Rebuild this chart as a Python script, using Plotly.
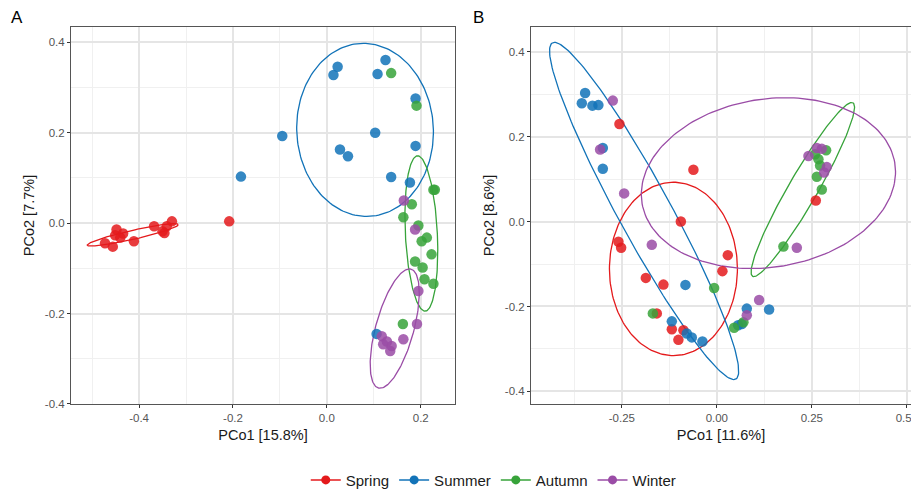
import numpy as np
import plotly.graph_objects as go

seasons = ["Spring", "Summer", "Autumn", "Winter"]
colors = {"Spring": "#E41A1C", "Summer": "#1273B8", "Autumn": "#37A33A", "Winter": "#9A4CA6"}

# ---------------- Tick labels ----------------
a_xtick_vals = [-0.4, -0.2, 0.0, 0.2]
a_xtick_text = ["-0.4", "-0.2", "0.0", "0.2"]
a_ytick_vals = [-0.4, -0.2, 0.0, 0.2, 0.4]
a_ytick_text = ["-0.4", "-0.2", "0.0", "0.2", "0.4"]
b_xtick_vals = [-0.25, 0.0, 0.25, 0.5]
b_xtick_text = ["-0.25", "0.00", "0.25", "0.50"]
b_ytick_vals = [-0.4, -0.2, 0.0, 0.2, 0.4]
b_ytick_text = ["-0.4", "-0.2", "0.0", "0.2", "0.4"]

# ---------------- Panel A data ----------------
a_spring_x = [-0.4725, -0.456, -0.448, -0.451, -0.434, -0.411, -0.368, -0.350, -0.341, -0.330, -0.440, -0.346, -0.208]
a_spring_y = [-0.0446, -0.052, -0.014, -0.027, -0.023, -0.040, -0.007, -0.018, -0.007, 0.004, -0.032, -0.022, 0.004]
a_summer_x = [-0.183, -0.095, 0.014, 0.023, 0.108, 0.125, 0.189, 0.103, 0.189, 0.028, 0.045, 0.137, 0.177, 0.106]
a_summer_y = [0.103, 0.193, 0.328, 0.346, 0.330, 0.361, 0.276, 0.200, 0.171, 0.163, 0.148, 0.102, 0.090, -0.245]
a_autumn_x = [0.137, 0.191, 0.227, 0.230, 0.181, 0.163, 0.195, 0.202, 0.213, 0.223, 0.188, 0.204, 0.208, 0.227, 0.162]
a_autumn_y = [0.332, 0.260, 0.074, 0.074, 0.042, 0.013, -0.005, -0.040, -0.032, -0.069, -0.085, -0.098, -0.124, -0.134, -0.223]
a_winter_x = [0.164, 0.188, 0.195, 0.192, 0.117, 0.120, 0.138, 0.135, 0.163, 0.128]
a_winter_y = [0.050, -0.014, -0.150, -0.223, -0.250, -0.268, -0.272, -0.283, -0.257, -0.262]

# ---------------- Panel B data ----------------
b_spring_x = [-0.2563, -0.0616, -0.0947, -0.2589, -0.2518, 0.0289, 0.0147, -0.1868, -0.1405, -0.1579, -0.1184, -0.0879, -0.1011, 0.2605]
b_spring_y = [0.2298, 0.1220, 0.0, -0.0475, -0.0617, -0.0791, -0.1168, -0.1327, -0.1485, -0.2163, -0.2538, -0.2560, -0.2786, 0.0497]
b_summer_x = [-0.3466, -0.3553, -0.3274, -0.3116, -0.300, -0.300, -0.0826, -0.1184, -0.0790, -0.0658, -0.0379, 0.0789, 0.1376, 0.0658, 0.056]
b_summer_y = [0.3028, 0.2786, 0.2728, 0.2741, 0.1733, 0.1243, -0.1492, -0.2350, -0.2637, -0.2728, -0.2825, -0.2050, -0.2072, -0.2411, -0.244]
b_autumn_x = [-0.0071, -0.1684, 0.0455, 0.070, 0.1753, 0.2876, 0.2674, 0.2718, 0.2632, 0.2763, 0.2587]
b_autumn_y = [-0.1566, -0.2163, -0.2502, -0.2373, -0.0588, 0.1679, 0.1469, 0.1318, 0.1055, 0.0753, 0.1582]
b_winter_x = [-0.2737, -0.3071, -0.2439, -0.1711, 0.1113, 0.0789, 0.2105, 0.2411, 0.2632, 0.2763, 0.2895, 0.2824]
b_winter_y = [0.2847, 0.1695, 0.0662, -0.0549, -0.1846, -0.2208, -0.0617, 0.1544, 0.1733, 0.1711, 0.1281, 0.1153]

# Ellipse parameters: centre (cx, cy) and two conjugate semi-axis vectors (ux, uy), (vx, vy)
a_ell_cx = [-0.4135, 0.0814, 0.2013, 0.1446]
a_ell_cy = [-0.0259, 0.2063, -0.0229, -0.2333]
a_ell_ux = [0.0969, 0.1456, 0.0341, 0.0419]
a_ell_uy = [0.0225, 0.0, 0.0, 0.0]
a_ell_vx = [0.0, -0.0036, -0.0078, 0.0313]
a_ell_vy = [0.0102, 0.1915, 0.1719, 0.1320]

b_ell_cx = [-0.1142, -0.1913, 0.2263, 0.1358]
b_ell_cy = [-0.1115, 0.0249, 0.0753, 0.0904]
b_ell_ux = [0.1684, 0.0789, 0.0439, 0.3316]
b_ell_uy = [0.0, 0.0, 0.0, 0.0]
b_ell_vx = [0.0, -0.2360, 0.1289, 0.0439]
b_ell_vy = [0.2041, 0.3970, 0.2049, 0.2011]

a_pts = {"Spring": (a_spring_x, a_spring_y), "Summer": (a_summer_x, a_summer_y),
         "Autumn": (a_autumn_x, a_autumn_y), "Winter": (a_winter_x, a_winter_y)}
b_pts = {"Spring": (b_spring_x, b_spring_y), "Summer": (b_summer_x, b_summer_y),
         "Autumn": (b_autumn_x, b_autumn_y), "Winter": (b_winter_x, b_winter_y)}

FONT = "Liberation Sans, Arial, sans-serif"
t = np.linspace(0, 2 * np.pi, 181)

fig = go.Figure()

def add_panel(pts, cx, cy, ux, uy, vx, vy, xa, ya):
    for i, s in enumerate(seasons):
        ex = cx[i] + ux[i] * np.cos(t) + vx[i] * np.sin(t)
        ey = cy[i] + uy[i] * np.cos(t) + vy[i] * np.sin(t)
        fig.add_trace(go.Scatter(x=ex, y=ey, mode="lines", xaxis=xa, yaxis=ya,
                                 line=dict(color=colors[s], width=1.3),
                                 showlegend=False, hoverinfo="skip", legendgroup=s))
    for s in seasons:
        x, y = pts[s]
        fig.add_trace(go.Scatter(x=x, y=y, mode="markers", xaxis=xa, yaxis=ya,
                                 marker=dict(color=colors[s], size=10.5, opacity=0.85, line=dict(width=0)),
                                 showlegend=False, name=s, legendgroup=s))

add_panel(a_pts, a_ell_cx, a_ell_cy, a_ell_ux, a_ell_uy, a_ell_vx, a_ell_vy, "x", "y")
add_panel(b_pts, b_ell_cx, b_ell_cy, b_ell_ux, b_ell_uy, b_ell_vx, b_ell_vy, "x2", "y2")

for s in seasons:
    fig.add_trace(go.Scatter(x=[None], y=[None], mode="lines+markers", name=s,
                             line=dict(color=colors[s], width=1.5),
                             marker=dict(color=colors[s], size=9), legendgroup=s))

W, H = 911, 497
ydom = [1 - 411 / H, 1 - 27 / H]

def axis_style(title, rng, dom, minor_dtick, tvals, ttext, anchor, mirror=True):
    return dict(range=rng, domain=dom, anchor=anchor,
                tickmode="array", tickvals=tvals, ticktext=ttext,
                showgrid=True, gridcolor="#E5E5E5", gridwidth=1.5,
                minor=dict(showgrid=True, gridcolor="#F0F0F0", gridwidth=0.9,
                           dtick=minor_dtick, tick0=0, ticks=""),
                zeroline=False, showline=True, linecolor="#555555", linewidth=1, mirror=mirror,
                ticks="outside", ticklen=3, tickcolor="#333333", tickwidth=1,
                ticklabeloverflow="allow",
                tickfont=dict(family=FONT, size=11.5, color="#555555"),
                title=dict(text=title, font=dict(family=FONT, size=14.5, color="#1a1a1a"), standoff=6),
                automargin=False)

fig.update_layout(
    width=W, height=H,
    margin=dict(l=0, r=0, t=0, b=0),
    paper_bgcolor="white", plot_bgcolor="white",
    font=dict(family=FONT),
    xaxis=axis_style("PCo1 [15.8%]", [-0.545, 0.273], [71 / W, 455 / W], 0.1, a_xtick_vals, a_xtick_text, "y"),
    yaxis=axis_style("PCo2 [7.7%]", [-0.401, 0.435], ydom, 0.1, a_ytick_vals, a_ytick_text, "x"),
    xaxis2=axis_style("PCo1 [11.6%]", [-0.489, 0.511], [531 / W, 1.0], 0.125, b_xtick_vals, b_xtick_text, "y2"),
    yaxis2=axis_style("PCo2 [8.6%]", [-0.4305, 0.459], ydom, 0.1, b_ytick_vals, b_ytick_text, "x2", mirror=False),
    legend=dict(orientation="h", x=0.542, xanchor="center", y=1 - 488 / H, yanchor="middle",
                font=dict(family=FONT, size=15, color="#1a1a1a"), itemwidth=30,
                bgcolor="rgba(0,0,0,0)"),
    showlegend=True,
    annotations=[
        dict(text="A", x=17 / W, y=1 - 18 / H, xref="paper", yref="paper", showarrow=False,
             xanchor="center", yanchor="middle",
             font=dict(family=FONT, size=17, color="black")),
        dict(text="B", x=478 / W, y=1 - 18 / H, xref="paper", yref="paper", showarrow=False,
             xanchor="center", yanchor="middle",
             font=dict(family=FONT, size=17, color="black")),
    ],
)
fig.update_xaxes(selector=dict(anchor="y2"), mirror=True)

fig.write_html("out.html")
